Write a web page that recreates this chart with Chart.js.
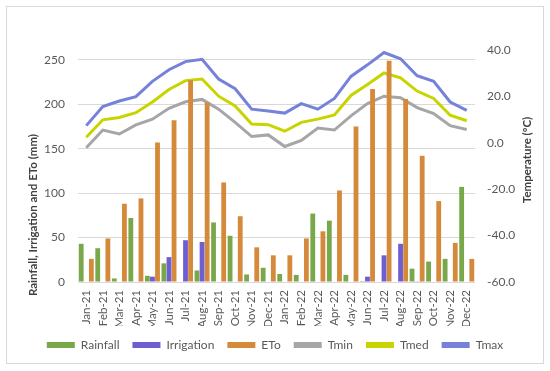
<!DOCTYPE html>
<html>
<head>
<meta charset="utf-8">
<script src="https://cdn.jsdelivr.net/npm/chart.js@4/dist/chart.umd.min.js"></script>
<style>
  html, body { margin: 0; padding: 0; background: #fff; }
  #wrap { width: 550px; height: 371px; position: relative; }
</style>
</head>
<body>
<div id="wrap"><canvas id="myChart" width="550" height="371"></canvas></div>
<script>
// monthly data, Jan-21 .. Dec-22
const months = ['Jan-21','Feb-21','Mar-21','Apr-21','May-21','Jun-21','Jul-21','Aug-21','Sep-21','Oct-21','Nov-21','Dec-21',
                'Jan-22','Feb-22','Mar-22','Apr-22','May-22','Jun-22','Jul-22','Aug-22','Sep-22','Oct-22','Nov-22','Dec-22'];
const rainfall   = [43, 38, 4, 72, 7, 21, 0, 13, 67, 52, 8.5, 16, 9, 8, 77, 69, 8, 1, 0, 0, 15, 23, 26, 107];
const irrigation = [0, 0, 0, 0, 6, 28, 47, 45, 0, 0, 0, 0, 0, 0, 0, 0, 0, 6, 30, 43, 0.8, 0, 0, 0];
const eto        = [26, 49, 88, 94, 157, 182, 227, 202, 112, 74, 39, 30, 30, 49, 57, 103, 175, 217, 249, 206, 142, 91, 44, 26];
const tmin = [-2.1, 5.5, 3.8, 7.7, 10.2, 14.9, 17.7, 18.7, 14.5, 8.8, 2.7, 3.4, -1.6, 1.0, 6.4, 5.5, 11.6, 16.9, 20.1, 19.4, 15.2, 12.6, 7.4, 5.7];
const tmed = [2.4, 9.9, 10.9, 13.0, 17.6, 23.0, 26.8, 27.5, 20.1, 15.9, 8.1, 7.8, 5.0, 8.8, 10.2, 12.0, 20.4, 25.1, 30.1, 28.0, 22.3, 19.1, 11.9, 9.5];
const tmax = [7.4, 15.6, 18.0, 19.9, 26.5, 31.5, 35.0, 36.0, 27.5, 23.3, 14.5, 13.7, 12.8, 16.9, 14.5, 19.1, 28.6, 33.6, 38.9, 36.2, 28.9, 26.5, 17.6, 14.0];

const FONT = 'Lato, "Liberation Sans", sans-serif';

Chart.defaults.font.family = FONT;
Chart.defaults.font.size = 12;
Chart.defaults.color = '#595959';

const frameAndTitles = {
  id: 'frameAndTitles',
  beforeDraw(chart) {
    const c = chart.ctx;
    c.save();
    c.strokeStyle = '#d9d9d9';
    c.lineWidth = 1;
    c.strokeRect(6.5, 6.5, 537, 357);
    c.restore();
  },
  afterDraw(chart) {
    const c = chart.ctx;
    c.save();
    c.fillStyle = '#404040';
    c.font = 'bold 11.5px ' + FONT;
    c.textAlign = 'center';
    c.textBaseline = 'middle';
    c.translate(33, 215);
    c.rotate(-Math.PI / 2);
    c.fillText('Rainfall, Irrigation and ETo (mm)', 0, 0);
    c.restore();
    c.save();
    c.fillStyle = '#404040';
    c.font = 'bold 11.5px ' + FONT;
    c.textAlign = 'center';
    c.textBaseline = 'middle';
    c.translate(527, 160);
    c.rotate(-Math.PI / 2);
    c.fillText('Temperature (ºC)', 0, 0);
    c.restore();
  }
};

let ctx = document.getElementById('myChart').getContext('2d');
let chart = new Chart(ctx, {
  data: {
    labels: months,
    datasets: [
      { type: 'bar', label: 'Rainfall', data: rainfall, backgroundColor: '#78a84a', yAxisID: 'y' },
      { type: 'bar', label: 'Irrigation', data: irrigation, backgroundColor: '#6e5ed2', yAxisID: 'y' },
      { type: 'bar', label: 'ETo', data: eto, backgroundColor: '#d5893a', yAxisID: 'y' },
      { type: 'line', label: 'Tmin', data: tmin, borderColor: '#a6a6a6', backgroundColor: '#a6a6a6', borderWidth: 3, pointRadius: 0, yAxisID: 'y1' },
      { type: 'line', label: 'Tmed', data: tmed, borderColor: '#c8d400', backgroundColor: '#c8d400', borderWidth: 3, pointRadius: 0, yAxisID: 'y1' },
      { type: 'line', label: 'Tmax', data: tmax, borderColor: '#7682d9', backgroundColor: '#7682d9', borderWidth: 3, pointRadius: 0, yAxisID: 'y1' }
    ]
  },
  options: {
    responsive: false,
    animation: false,
    layout: { padding: { top: 50, bottom: 10, left: 0, right: 0 } },
    datasets: {
      bar: { categoryPercentage: 0.92, barPercentage: 0.95 }
    },
    scales: {
      x: {
        grid: { display: true, drawOnChartArea: false, drawTicks: false },
        border: { display: false },
        ticks: { minRotation: 90, maxRotation: 90, autoSkip: false, padding: 8, color: '#595959', font: { size: 11.5 } },
        afterFit(scale) { scale.height = 44; }
      },
      y: {
        position: 'left',
        min: 0, max: 261,
        ticks: { stepSize: 50, includeBounds: false, padding: 13 },
        grid: { color: '#d9d9d9', drawTicks: false },
        border: { display: false },
        afterFit(scale) { scale.width = 78; }
      },
      y1: {
        position: 'right',
        min: -60, max: 40,
        ticks: { stepSize: 20, padding: 12, callback: v => v.toFixed(1) },
        grid: { display: false, drawTicks: false },
        border: { display: false },
        afterFit(scale) { scale.width = 75; }
      }
    },
    plugins: {
      legend: {
        position: 'bottom',
        labels: {
          boxWidth: 28, boxHeight: 6, padding: 13, color: '#595959',
          generateLabels(chart) {
            const items = Chart.defaults.plugins.legend.labels.generateLabels(chart);
            items.forEach(it => { it.lineWidth = 0; });
            return items;
          }
        }
      },
      tooltip: { enabled: false },
      title: { display: false }
    }
  },
  plugins: [frameAndTitles]
});
</script>
</body>
</html>
